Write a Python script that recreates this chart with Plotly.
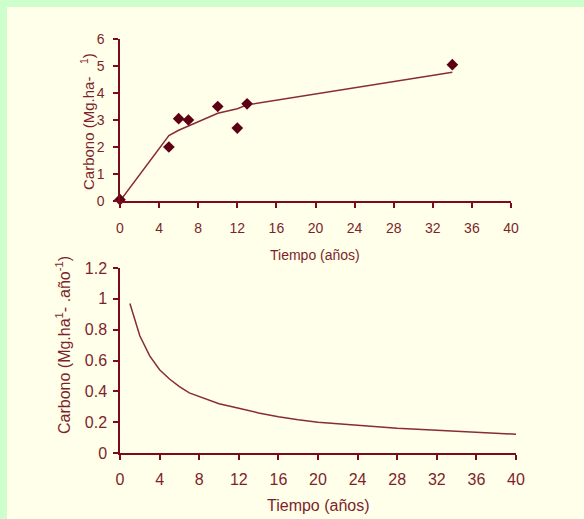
import plotly.graph_objects as go

# Top chart: carbon stock vs time
obs_years = [0, 5, 6, 7, 10, 12, 13, 34]
obs_carbon = [0.05, 2.0, 3.05, 3.0, 3.5, 2.7, 3.6, 5.05]
fit_years = [0, 5, 6, 7, 10, 12, 13, 34]
fit_carbon = [0.0, 2.42, 2.62, 2.78, 3.25, 3.42, 3.56, 4.77]

# Bottom chart: annual rate vs time
rate_years = [1, 2, 3, 4, 5, 6, 7, 8, 9, 10, 12, 14, 16, 18, 20, 24, 28, 32, 36, 40]
rate_carbon = [0.97, 0.76, 0.63, 0.54, 0.48, 0.43, 0.39, 0.365, 0.34, 0.32,
               0.29, 0.26, 0.235, 0.215, 0.2, 0.18, 0.16, 0.148, 0.135, 0.122]

top_yticks = [0, 1, 2, 3, 4, 5, 6]
x_ticks = [0, 4, 8, 12, 16, 20, 24, 28, 32, 36, 40]
bot_yticks = [0, 0.2, 0.4, 0.6, 0.8, 1.0, 1.2]
bot_ytick_text = ["0", "0.2", "0.4", "0.6", "0.8", "1", "1.2"]

W, H = 584, 519
AX = "#7a0a1c"
TXT = "#7d1f2c"
MK = "#5e0014"
LN = "#8a2a3a"
BG = "#ffffea"
GREEN = "#ccffcc"
FONT = "Liberation Sans, Arial, sans-serif"

def px(x):
    return x / W

def py(y):
    return 1 - y / H

fig = go.Figure()
fig.add_trace(go.Scatter(x=fit_years, y=fit_carbon, mode="lines",
                         line=dict(color=LN, width=1.5), xaxis="x", yaxis="y",
                         showlegend=False, cliponaxis=False, hoverinfo="skip"))
fig.add_trace(go.Scatter(x=obs_years, y=obs_carbon, mode="markers",
                         marker=dict(symbol="diamond", size=9, color=MK),
                         xaxis="x", yaxis="y", showlegend=False, cliponaxis=False))
fig.add_trace(go.Scatter(x=rate_years, y=rate_carbon, mode="lines",
                         line=dict(color=LN, width=1.5), xaxis="x2", yaxis="y2",
                         showlegend=False, cliponaxis=False))

axis_common = dict(showgrid=False, zeroline=False, showline=True, linecolor=AX,
                   linewidth=1.5, ticks="outside", tickcolor=AX, tickwidth=1.5,
                   ticklen=5, automargin=False)

fig.update_layout(
    width=W, height=H,
    margin=dict(l=0, r=0, t=0, b=0, autoexpand=False),
    paper_bgcolor=GREEN, plot_bgcolor=BG,
    font=dict(family=FONT, color=TXT),
    xaxis=dict(domain=[px(120), px(511)], range=[0, 40], tickvals=x_ticks,
               anchor="y", tickfont=dict(size=14, color=TXT),
               ticklabelstandoff=8, **axis_common),
    yaxis=dict(domain=[py(201), py(39)], range=[0, 6], tickvals=top_yticks,
               anchor="x", tickfont=dict(size=14, color=TXT),
               ticklabelstandoff=6, **axis_common),
    xaxis2=dict(domain=[px(120), px(516)], range=[0, 40], tickvals=x_ticks,
                anchor="y2", tickfont=dict(size=16, color=TXT),
                ticklabelstandoff=6, **axis_common),
    yaxis2=dict(domain=[py(453), py(268)], range=[0, 1.2], tickvals=bot_yticks,
                ticktext=bot_ytick_text, anchor="x2",
                tickfont=dict(size=16, color=TXT), ticklabelstandoff=3,
                **axis_common),
    shapes=[dict(type="rect", xref="paper", yref="paper", x0=px(7), x1=1.01,
                 y0=-0.01, y1=py(7), fillcolor=BG, line=dict(width=0),
                 layer="below")],
    annotations=[
        dict(text="Tiempo (años)", xref="paper", yref="paper", x=px(315), y=py(255),
             xanchor="center", yanchor="middle", showarrow=False,
             font=dict(size=14, color=TXT)),
        dict(text="Carbono (Mg.ha-   <sup>1</sup>)", xref="paper", yref="paper",
             x=px(87), y=py(122), xanchor="center", yanchor="middle",
             textangle=-90, showarrow=False, font=dict(size=15, color=TXT)),
        dict(text="Tiempo (años)", xref="paper", yref="paper", x=px(318), y=py(505),
             xanchor="center", yanchor="middle", showarrow=False,
             font=dict(size=16, color=TXT)),
        dict(text="Carbono (Mg.ha<sup>1</sup>- .año<sup>-1</sup>)", xref="paper",
             yref="paper", x=px(63), y=py(345), xanchor="center", yanchor="middle",
             textangle=-90, showarrow=False, font=dict(size=16, color=TXT)),
    ],
)

fig.write_html("out.html",
               config={"displayModeBar": False},
               post_script="document.body.style.margin='0px';"
                           "document.body.style.overflow='hidden';")
